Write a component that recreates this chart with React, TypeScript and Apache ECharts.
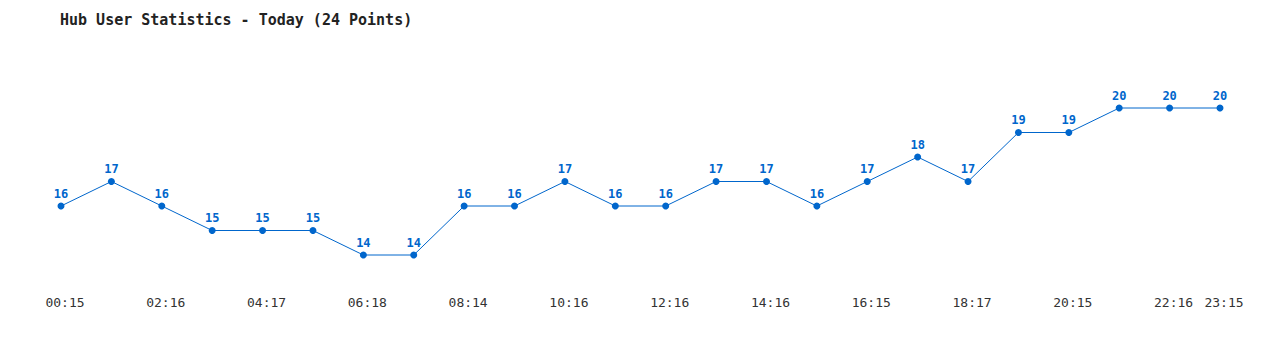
import React, { useEffect, useRef } from "react";
import * as echarts from "echarts";

const times = [
  "00:15", "01:15", "02:16", "03:16", "04:17", "05:17", "06:18", "07:15",
  "08:14", "09:15", "10:16", "11:16", "12:16", "13:16", "14:16", "15:16",
  "16:15", "17:16", "18:17", "19:15", "20:15", "21:16", "22:16", "23:15",
];
const users = [16, 17, 16, 15, 15, 15, 14, 14, 16, 16, 17, 16, 16, 17, 17, 16, 17, 18, 17, 19, 19, 20, 20, 20];
const titleText = "Hub User Statistics - Today (24 Points)";

export default function App() {
  const ref = useRef<HTMLDivElement>(null);
  useEffect(() => {
    if (!ref.current) return;
    const chart = echarts.init(ref.current, undefined, { renderer: "svg" });
    const mono = "'DejaVu Sans Mono', 'Liberation Mono', monospace";
    chart.setOption({
      animation: false,
      backgroundColor: "#ffffff",
      title: {
        text: titleText,
        left: 52,
        top: 4,
        padding: 0,
        textStyle: { fontFamily: mono, fontSize: 15, fontWeight: "bold", color: "#222" },
      },
      grid: { left: 53, right: 52, top: 75.5, bottom: 62.5 },
      xAxis: {
        type: "category",
        data: times,
        boundaryGap: false,
        axisLine: { show: false },
        axisTick: { show: false },
        splitLine: { show: false },
        axisLabel: {
          interval: (i: number) => i % 2 === 0 || i === times.length - 1,
          fontFamily: mono,
          fontSize: 13,
          color: "#333",
          margin: 16,
          padding: [0, 0, 0, 8],
        },
      },
      yAxis: { type: "value", min: 13, max: 21, show: false },
      series: [
        {
          type: "line",
          data: users,
          symbol: "circle",
          symbolSize: 7,
          lineStyle: { color: "#0066cc", width: 1 },
          itemStyle: { color: "#0066cc" },
          label: {
            show: true,
            position: "top",
            distance: 3,
            fontFamily: mono,
            fontSize: 12,
            fontWeight: "bold",
            color: "#0066cc",
          },
        },
      ],
    });
    return () => chart.dispose();
  }, []);
  return <div ref={ref} style={{ width: 1264, height: 334 }} />;
}
